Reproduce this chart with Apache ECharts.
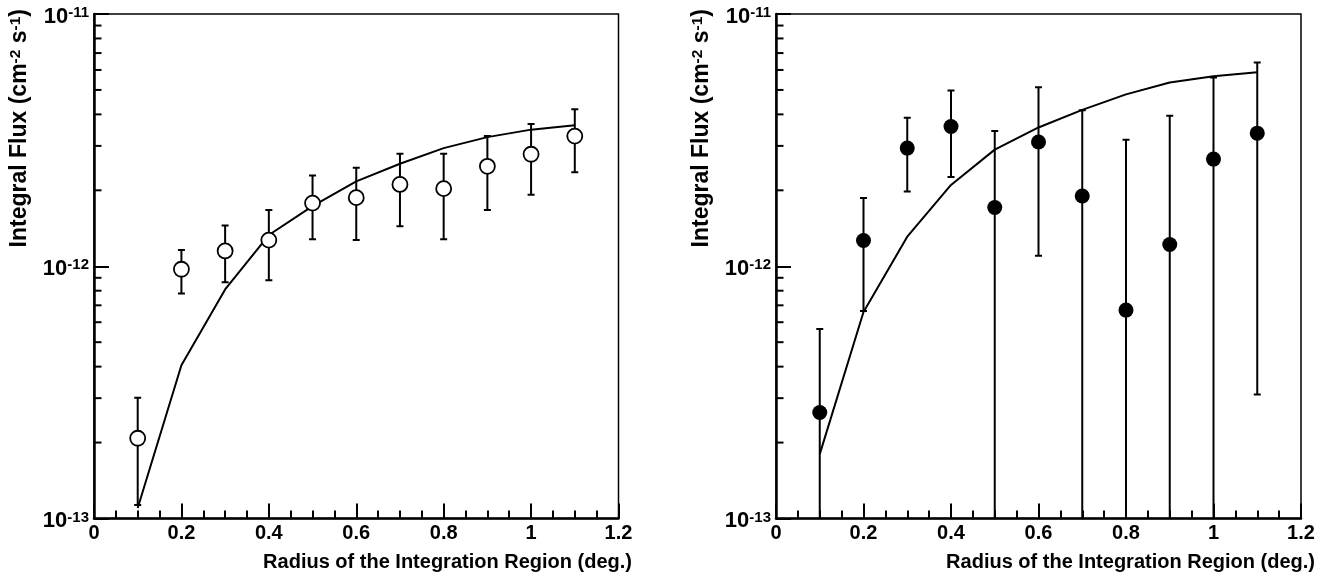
<!DOCTYPE html>
<html><head><meta charset="utf-8">
<script src="https://cdn.jsdelivr.net/npm/echarts@6/dist/echarts.min.js"></script>
<style>html,body{margin:0;padding:0;background:#fff}#c{width:1337px;height:581px}</style>
</head><body><div id="c"></div>
<script>
// Radius of the integration region (deg.)
const radius = [0.1, 0.2, 0.3, 0.4, 0.5, 0.6, 0.7, 0.8, 0.9, 1.0, 1.1];
// All flux values in units of 1e-12 cm^-2 s^-1
// Left panel (open circles)
const leftFlux  = [0.208, 0.973, 1.15, 1.27, 1.78, 1.87, 2.11, 2.03, 2.49, 2.78, 3.28];
const leftHigh  = [0.301, 1.16, 1.45, 1.67, 2.29, 2.46, 2.79, 2.79, 3.28, 3.66, 4.19];
const leftLow   = [0.113, 0.78, 0.865, 0.88, 1.28, 1.27, 1.44, 1.28, 1.67, 1.92, 2.36];
const leftModel = [0.110, 0.405, 0.809, 1.33, 1.73, 2.17, 2.55, 2.94, 3.25, 3.48, 3.62];
// Right panel (filled circles); low = 0 means the bar runs below the axis
const rightFlux  = [0.263, 1.265, 2.94, 3.58, 1.71, 3.11, 1.90, 0.670, 1.22, 2.66, 3.37];
const rightHigh  = [0.564, 1.864, 3.88, 4.97, 3.44, 5.12, 4.15, 3.17, 3.95, 5.60, 6.42];
const rightLow   = [0, 0.664, 1.98, 2.26, 0, 1.10, 0, 0, 0, 0, 0.310];
const rightModel = [0.180, 0.659, 1.31, 2.10, 2.90, 3.55, 4.17, 4.80, 5.35, 5.66, 5.88];
// Axis ticks / labels
const yMajorTicks = [0.1, 1, 10];
const yTickExponents = ['-13', '-12', '-11'];
const yMinorTicks = [0.2, 0.3, 0.4, 0.5, 0.6, 0.7, 0.8, 0.9, 2, 3, 4, 5, 6, 7, 8, 9];
const xTickLabels = ['0', '0.2', '0.4', '0.6', '0.8', '1', '1.2'];
const xTitle = 'Radius of the Integration Region (deg.)';
const yTitleParts = ['Integral Flux (cm', '-2', ' s', '-1', ')'];

const FONT = '"Liberation Sans", Arial, Helvetica, sans-serif';
const X_MIN = 0, X_MAX = 1.2, Y_MIN = yMajorTicks[0], Y_MAX = yMajorTicks[yMajorTicks.length - 1];

const richSup = {
  b: { fontSize: 22, fontWeight: 'bold', fontFamily: FONT, color: '#000', lineHeight: 22, verticalAlign: 'bottom', padding: [5.5, 0, 0, 0] },
  s: { fontSize: 15, fontWeight: 'bold', fontFamily: FONT, color: '#000', lineHeight: 15, verticalAlign: 'top' }
};
const richTitle = {
  b: { fontSize: 23, fontWeight: 'bold', fontFamily: FONT, color: '#000', lineHeight: 23, verticalAlign: 'bottom', padding: [5.5, 0, 0, 0] },
  s: { fontSize: 15.5, fontWeight: 'bold', fontFamily: FONT, color: '#000', lineHeight: 15.5, verticalAlign: 'top' }
};

function errorBarRender(params, api) {
  const x = api.value(0), lo = api.value(1), hi = api.value(2);
  const pTop = api.coord([x, hi]);
  const clipped = !(lo >= Y_MIN);
  const pBot = api.coord([x, clipped ? Y_MIN : lo]);
  const cw = 3.5;
  const style = { stroke: '#000', lineWidth: 2 };
  const children = [
    { type: 'line', shape: { x1: pTop[0], y1: pTop[1], x2: pBot[0], y2: pBot[1] }, style },
    { type: 'line', shape: { x1: pTop[0] - cw, y1: pTop[1], x2: pTop[0] + cw, y2: pTop[1] }, style }
  ];
  if (!clipped) children.push({ type: 'line', shape: { x1: pBot[0] - cw, y1: pBot[1], x2: pBot[0] + cw, y2: pBot[1] }, style });
  return { type: 'group', children };
}
function minorTickRender(params, api) {
  const p = api.coord([X_MIN, api.value(1)]);
  return { type: 'line', shape: { x1: p[0], y1: p[1], x2: p[0] + 7.5, y2: p[1] }, style: { stroke: '#000', lineWidth: 2 } };
}

function xAxisDef(gi) {
  return {
    type: 'value', gridIndex: gi, min: X_MIN, max: X_MAX, interval: 0.2,
    axisLine: { show: true, onZero: false, lineStyle: { color: '#000', width: 2.5 } },
    axisTick: { show: true, inside: true, length: 15, lineStyle: { color: '#000', width: 2 } },
    minorTick: { show: true, splitNumber: 4, length: 8, lineStyle: { color: '#000', width: 2 } },
    splitLine: { show: false }, minorSplitLine: { show: false },
    axisLabel: {
      margin: 5, fontSize: 20, fontWeight: 'bold', color: '#000', fontFamily: FONT,
      showMinLabel: true, showMaxLabel: true,
      formatter: (v, i) => xTickLabels[i]
    }
  };
}
function yAxisDef(gi) {
  return {
    type: 'log', logBase: 10, gridIndex: gi, min: Y_MIN, max: Y_MAX,
    axisLine: { show: true, onZero: false, lineStyle: { color: '#000', width: 2.5 } },
    axisTick: { show: true, inside: true, length: 15, lineStyle: { color: '#000', width: 2 } },
    splitLine: { show: false },
    axisLabel: {
      margin: 5, showMinLabel: true, showMaxLabel: true, padding: [5, 0, 0, 0],
      formatter: (v, i) => '{b|10}{s|' + yTickExponents[i] + '}',
      rich: richSup
    }
  };
}
function pairs(xs, ys) { return xs.map((x, i) => [x, ys[i]]); }
function triples(xs, lo, hi) { return xs.map((x, i) => [x, lo[i], hi[i]]); }

function panelSeries(gi, flux, lo, hi, model, filled) {
  return [
    { type: 'custom', xAxisIndex: gi, yAxisIndex: gi, renderItem: minorTickRender, clip: false, silent: true,
      encode: { x: 0, y: 1 }, data: yMinorTicks.map(v => [X_MIN, v]), z: 5 },
    { type: 'custom', xAxisIndex: gi, yAxisIndex: gi, renderItem: errorBarRender, clip: true, silent: true,
      encode: { x: 0, y: 2 }, data: triples(radius, lo, hi), z: 2 },
    { type: 'line', xAxisIndex: gi, yAxisIndex: gi, data: pairs(radius, model), showSymbol: false, symbol: 'none',
      lineStyle: { color: '#000', width: 2 }, silent: true, z: 3 },
    { type: 'scatter', xAxisIndex: gi, yAxisIndex: gi, data: pairs(radius, flux), symbol: 'circle', symbolSize: 15,
      itemStyle: filled ? { color: '#000', opacity: 1 } : { color: '#fff', borderColor: '#000', borderWidth: 1.8, opacity: 1 },
      silent: true, z: 4 }
  ];
}

const yTitleRich = '{b|' + yTitleParts[0] + '}{s|' + yTitleParts[1] + '}{b|' + yTitleParts[2] + '}{s|' + yTitleParts[3] + '}{b|' + yTitleParts[4] + '}';
function yTitle(x) {
  return { type: 'text', x: x, y: 9, rotation: Math.PI / 2, silent: true,
    style: { text: yTitleRich, rich: richTitle, align: 'right', verticalAlign: 'middle', fill: '#000' } };
}
function xTitleG(x) {
  return { type: 'text', x: x, y: 562, silent: true,
    style: { text: xTitle, align: 'right', verticalAlign: 'middle', fill: '#000',
      font: 'bold 20px ' + FONT } };
}

const chart = echarts.init(document.getElementById('c'), null, { renderer: 'canvas' });
chart.setOption({
  animation: false,
  backgroundColor: '#fff',
  grid: [
    { left: 94, right: 1337 - 618.5, top: 12.5, bottom: 581 - 518.5, show: true, borderColor: '#000', borderWidth: 1.5, backgroundColor: 'transparent' },
    { left: 776, right: 1337 - 1301, top: 12.5, bottom: 581 - 518.5, show: true, borderColor: '#000', borderWidth: 1.5, backgroundColor: 'transparent' }
  ],
  xAxis: [xAxisDef(0), xAxisDef(1)],
  yAxis: [yAxisDef(0), yAxisDef(1)],
  series: [].concat(
    panelSeries(0, leftFlux, leftLow, leftHigh, leftModel, false),
    panelSeries(1, rightFlux, rightLow, rightHigh, rightModel, true)
  ),
  graphic: [yTitle(19.6), yTitle(701.6), xTitleG(632), xTitleG(1315)]
});
</script></body></html>
